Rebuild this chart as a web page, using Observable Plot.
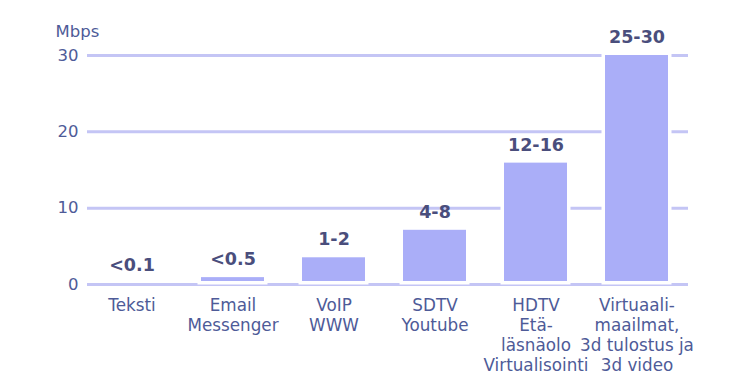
<!DOCTYPE html>
<html>
<head>
<meta charset="utf-8">
<script src="https://cdn.jsdelivr.net/npm/d3@7"></script>
<script src="https://cdn.jsdelivr.net/npm/@observablehq/plot@0.6"></script>
<style>
  html, body { margin: 0; padding: 0; background: #ffffff; }
  #chart svg { display: block; }
</style>
</head>
<body>
<div id="chart"></div>
<script>
const categories = [
  "Teksti",
  "Email\nMessenger",
  "VoIP\nWWW",
  "SDTV\nYoutube",
  "HDTV\nEtä-\nläsnäolo\nVirtualisointi",
  "Virtuaali-\nmaailmat,\n3d tulostus ja\n3d video"
];
const values = [0.1, 0.9, 3.5, 7.1, 15.9, 30];
const valueLabels = ["<0.1", "<0.5", "1-2", "4-8", "12-16", "25-30"];
const yTicks = [0, 10, 20, 30];
const unitLabel = "Mbps";

const data = categories.map((c, i) => ({ cat: c, v: values[i], lab: valueLabels[i] }));

const textColor = "#4e5b98";
const gridColor = "#c4c5f5";
const barColor = "#aaaef8";
const font = "DejaVu Sans, Verdana, sans-serif";

const chart = Plot.plot({
  width: 731,
  height: 385,
  marginLeft: 87,
  marginRight: 43,
  marginTop: 55,
  marginBottom: 101,
  style: { fontFamily: font, background: "#ffffff", color: textColor },
  x: { domain: categories, paddingInner: 0.38, paddingOuter: 0.15, align: 0.38, label: null },
  y: { domain: [0, 30], ticks: yTicks, label: null },
  marks: [
    Plot.ruleY(yTicks, { stroke: gridColor, strokeWidth: 3 }),
    Plot.barY(data, { x: "cat", y: "v", fill: "white", stroke: "white", strokeWidth: 7, insetBottom: 3 }),
    Plot.barY(data, { x: "cat", y: "v", fill: barColor, insetBottom: 3 }),
    Plot.text(data, { x: "cat", y: "v", text: "lab", lineAnchor: "bottom", dy: -12.5, fontSize: 17.5, fontWeight: "bold", fill: "#4a4e7c" }),
    Plot.axisY({ ticks: yTicks, tickSize: 0, tickPadding: 9, fontSize: 16.5, label: null, fill: textColor }),
    Plot.axisX({ tickSize: 0, tickPadding: 12.5, fontSize: 16.8, lineHeight: 1.19, label: null, fill: textColor }),
    Plot.text([unitLabel], { frameAnchor: "top-left", textAnchor: "start", lineAnchor: "bottom", dx: -32, dy: -19, fontSize: 16.5, fill: textColor })
  ]
});
document.getElementById("chart").appendChild(chart);
</script>
</body>
</html>
